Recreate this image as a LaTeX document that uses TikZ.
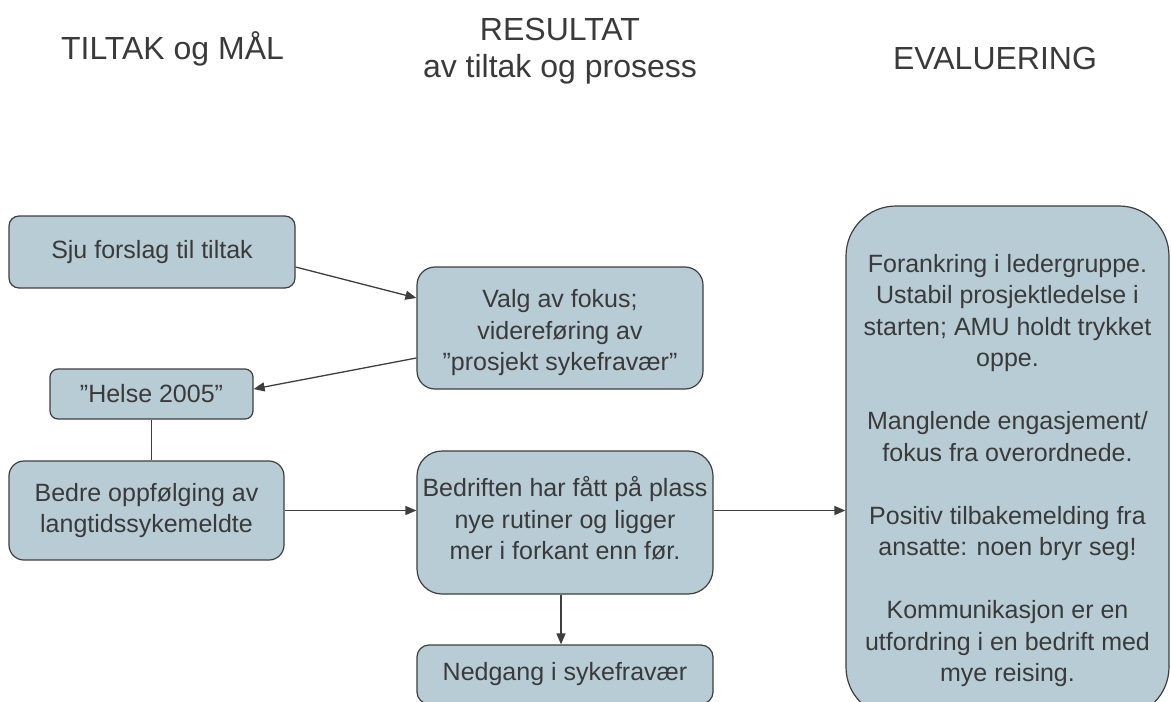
\documentclass[tikz,border=0pt]{standalone}
\usepackage{fontspec}
\setmainfont{Liberation Sans}
\usetikzlibrary{calc,arrows.meta}

\definecolor{boxfill}{HTML}{B8CCD5}
\definecolor{boxline}{HTML}{3E3E3E}
\definecolor{ink}{HTML}{3A3A3A}

\tikzset{
  stepbox/.style={draw=boxline, fill=boxfill, line width=1.2pt, align=center,
    inner sep=0pt, text=ink, font=\fontsize{25}{31.5}\selectfont},
  plaintext/.style={align=center, inner sep=0pt, text=ink,
    font=\fontsize{25}{31.5}\selectfont},
  heading/.style={align=center, inner sep=0pt, text=ink,
    font=\fontsize{32}{37}\selectfont},
  link/.style={draw=boxline, line width=1.3pt},
  arrow/.style={link, -{Triangle[length=11pt,width=9pt]}}
}

\begin{document}
\begin{tikzpicture}[x=1pt, y=-1pt]
\useasboundingbox (0,0) rectangle (1171,702);

% column headings
\node[heading, anchor=base] (h1) at (172.5,59) {TILTAK og MÅL};
\node[heading] (h2) at (560,51) {RESULTAT\\av tiltak og prosess};
\node[heading, anchor=base] (h3) at (995,69) {EVALUERING};

% left column: measures and goals
\node[stepbox, rounded corners=10pt, minimum width=286pt, minimum height=72pt]
  (sju) at (152,252) {Sju forslag til tiltak};
\node[stepbox, rounded corners=8pt, minimum width=203pt, minimum height=50pt]
  (helse) at (151.5,394) {”Helse 2005”};
\node[stepbox, rounded corners=15pt, minimum width=275pt, minimum height=99pt]
  (bedre) at (146.5,510.5) {Bedre oppfølging av\\langtidssykemeldte};

% middle column: results
\node[stepbox, rounded corners=18pt, minimum width=286pt, minimum height=122pt]
  (valg) at (560,328) {};
\node[plaintext] (valgtext) at ($(valg.center)+(0,5)$)
  {Valg av fokus;\\videreføring av\\”prosjekt sykefravær”};
\node[stepbox, rounded corners=25pt, minimum width=296pt, minimum height=143pt]
  (bedriften) at (565,522.5) {};
\node[plaintext] (bedrifttext) at ($(bedriften.center)+(0,-4)$)
  {Bedriften har fått på plass\\nye rutiner og ligger\\mer i forkant enn før.};
\node[stepbox, rounded corners=12pt, minimum width=296pt, minimum height=59pt]
  (nedgang) at (565,674.5) {Nedgang i sykefravær};

% right column: evaluation
\node[stepbox, rounded corners=50pt, minimum width=323pt, minimum height=511pt]
  (eval) at (1007.5,461.5) {};
\node[plaintext] (evaltext) at ($(eval.center)+(0,9)$)
  {Forankring i ledergruppe.\\Ustabil prosjektledelse i\\starten; AMU holdt trykket\\oppe.\\[31.5pt]Manglende engasjement/\\fokus fra overordnede.\\[31.5pt]Positiv tilbakemelding fra\\ansatte: noen bryr seg!\\[31.5pt]Kommunikasjon er en\\utfordring i en bedrift med\\mye reising.};

% connectors
\draw[arrow] ($(sju.east)+(0,15)$) -- ($(valg.west)+(0,-30)$);
\draw[arrow] ($(valg.west)+(0,30)$) -- ($(helse.east)+(0,-5)$);
\draw[link] (helse.south) -- (helse.south |- bedre.north);
\draw[arrow] (bedre.east) -- (bedre.east -| bedriften.west);
\draw[arrow] (bedre.east -| bedriften.east) -- (bedre.east -| eval.west);
\draw[arrow] ($(bedriften.south)+(-4,0)$) -- ($(nedgang.north)+(-4,0)$);
\end{tikzpicture}
\end{document}
